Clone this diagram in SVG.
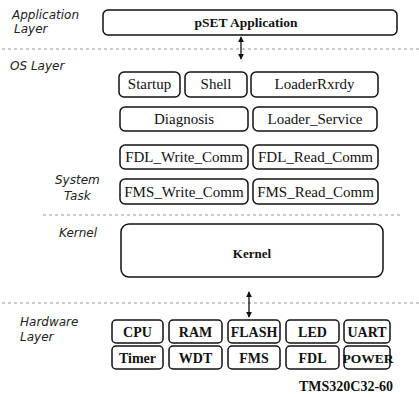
<svg xmlns="http://www.w3.org/2000/svg" width="419" height="397" viewBox="0 0 419 397">
<style>
.bx{fill:#fff;stroke:#111;stroke-width:1.5}
.t{font-family:"Liberation Serif","Times New Roman",serif;font-size:15px;fill:#111;text-anchor:middle}
.hb{font-family:"Liberation Serif","Times New Roman",serif;font-size:14px;font-weight:bold;fill:#111;text-anchor:middle}
.lb{font-family:"DejaVu Sans",sans-serif;font-style:italic;font-size:12px;fill:#222}
.dl{stroke:#999;stroke-width:1;stroke-dasharray:3 3;fill:none}
.ar{stroke:#111;stroke-width:1.3;fill:none;marker-start:url(#ah);marker-end:url(#ah)}
</style>
<defs>
<marker id="ah" viewBox="0 0 8 8" refX="7" refY="4" markerWidth="6" markerHeight="6" orient="auto-start-reverse" markerUnits="userSpaceOnUse">
<path d="M0,0 L8,4 L0,8 z" fill="#111"/>
</marker>
</defs>
<rect width="419" height="397" fill="#fff"/>
<g id="labels">
<text class="lb" x="12" y="19">Application</text>
<text class="lb" x="14" y="33">Layer</text>
<text class="lb" x="10" y="70">OS Layer</text>
<text class="lb" x="55" y="184">System</text>
<text class="lb" x="64" y="200">Task</text>
<text class="lb" x="59" y="237">Kernel</text>
<text class="lb" x="20" y="326">Hardware</text>
<text class="lb" x="20" y="341">Layer</text>
</g>
<g id="separators">
<line class="dl" x1="2" y1="49" x2="419" y2="49"/>
<line class="dl" x1="43" y1="215" x2="400" y2="215"/>
<line class="dl" x1="2" y1="303" x2="419" y2="303"/>
</g>
<g id="connectors">
<line class="ar" x1="241" y1="37" x2="241" y2="59"/>
<line class="ar" x1="249" y1="292" x2="249" y2="317"/>
</g>
<g id="pset"><rect class="bx" x="103" y="10" width="294" height="25" rx="5"/><text class="t" x="246" y="27" style="font-weight:bold;font-size:13.5px">pSET Application</text></g>
<g id="startup"><rect class="bx" x="119" y="72" width="61" height="25" rx="5"/><text class="t" x="149.5" y="89">Startup</text></g>
<g id="shell"><rect class="bx" x="185" y="72" width="62" height="25" rx="5"/><text class="t" x="216" y="89">Shell</text></g>
<g id="loaderrxrdy"><rect class="bx" x="251" y="72" width="127" height="25" rx="5"/><text class="t" x="314.5" y="89">LoaderRxrdy</text></g>
<g id="diagnosis"><rect class="bx" x="120" y="107" width="128" height="24" rx="5"/><text class="t" x="184" y="124">Diagnosis</text></g>
<g id="loader_service"><rect class="bx" x="253" y="107" width="124" height="24" rx="5"/><text class="t" x="315" y="124">Loader_Service</text></g>
<g id="fdl_write"><rect class="bx" x="120" y="145" width="128" height="24" rx="5"/><text class="t" x="184" y="162">FDL_Write_Comm</text></g>
<g id="fdl_read"><rect class="bx" x="253" y="145" width="125" height="24" rx="5"/><text class="t" x="315.5" y="162">FDL_Read_Comm</text></g>
<g id="fms_write"><rect class="bx" x="120" y="179" width="128" height="25" rx="5"/><text class="t" x="184" y="197">FMS_Write_Comm</text></g>
<g id="fms_read"><rect class="bx" x="253" y="179" width="125" height="25" rx="5"/><text class="t" x="315.5" y="197">FMS_Read_Comm</text></g>
<g id="kernel"><rect class="bx" x="121" y="224" width="262" height="53" rx="8"/><text class="t" x="252" y="258" style="font-weight:bold;font-size:13px">Kernel</text></g>
<g id="cpu"><rect class="bx" x="112" y="320" width="51" height="23" rx="4"/><text class="hb" x="137.5" y="337">CPU</text></g>
<g id="ram"><rect class="bx" x="169" y="320" width="53" height="23" rx="4"/><text class="hb" x="195.5" y="337">RAM</text></g>
<g id="flash"><rect class="bx" x="228" y="320" width="52" height="23" rx="4"/><text class="hb" x="254" y="337">FLASH</text></g>
<g id="led"><rect class="bx" x="286" y="320" width="53" height="23" rx="4"/><text class="hb" x="312.5" y="337">LED</text></g>
<g id="uart"><rect class="bx" x="344" y="320" width="46" height="23" rx="4"/><text class="hb" x="367" y="337">UART</text></g>
<g id="timer"><rect class="bx" x="112" y="346" width="51" height="23" rx="4"/><text class="hb" x="137.5" y="363">Timer</text></g>
<g id="wdt"><rect class="bx" x="169" y="346" width="53" height="23" rx="4"/><text class="hb" x="195.5" y="363">WDT</text></g>
<g id="fms"><rect class="bx" x="228" y="346" width="52" height="23" rx="4"/><text class="hb" x="254" y="363">FMS</text></g>
<g id="fdl"><rect class="bx" x="286" y="346" width="53" height="23" rx="4"/><text class="hb" x="312.5" y="363">FDL</text></g>
<g id="power"><rect class="bx" x="344" y="346" width="46" height="23" rx="4"/><text class="hb" x="368" y="363" style="font-size:13.5px">POWER</text></g>
<text class="hb" x="346" y="391">TMS320C32-60</text>
</svg>
